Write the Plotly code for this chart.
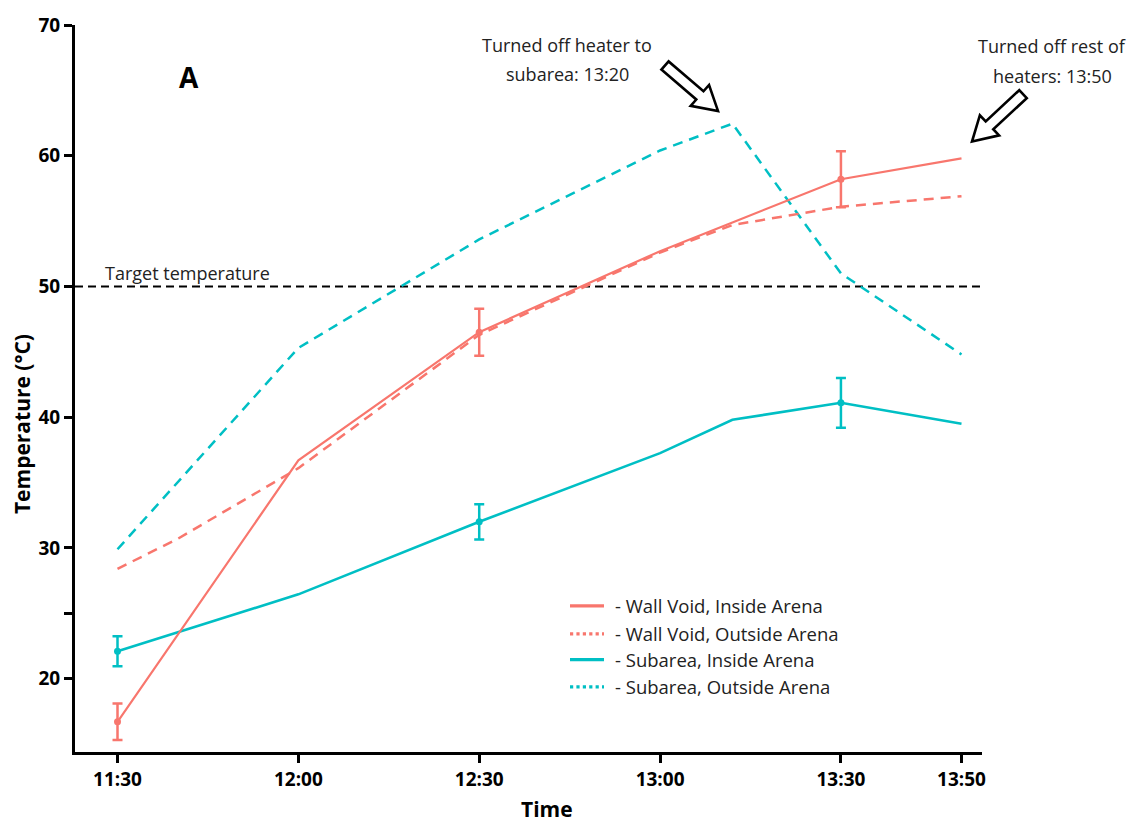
import plotly.graph_objects as go

# ---------------- data (minutes after 11:30) ----------------
tick_minutes = [0, 30, 60, 90, 120, 140]
tick_labels = ["11:30", "12:00", "12:30", "13:00", "13:30", "13:50"]

wv_in_t = [0, 30, 60, 90, 102, 120, 140]
wv_in_v = [16.7, 36.7, 46.5, 52.7, 54.9, 58.2, 59.8]

wv_out_t = [0, 10, 30, 60, 90, 102, 120, 140]
wv_out_v = [28.4, 30.7, 36.1, 46.3, 52.6, 54.7, 56.1, 56.9]

sub_in_t = [0, 30, 60, 90, 102, 120, 140]
sub_in_v = [22.1, 26.45, 32.0, 37.25, 39.8, 41.1, 39.5]

sub_out_t = [0, 30, 60, 90, 102, 120, 140]
sub_out_v = [29.9, 45.3, 53.6, 60.4, 62.45, 51.0, 44.8]

err_t = [0, 60, 120]
wv_in_err = [1.4, 1.8, 2.15]
sub_in_err = [1.15, 1.35, 1.9]

target_temp = 50
legend_names = ["- Wall Void, Inside Arena", "- Wall Void, Outside Arena",
                "- Subarea, Inside Arena", "- Subarea, Outside Arena"]

RED = "#F8766D"
CYAN = "#00BFC4"
FONT = "Open Sans"

# ---------------- layout geometry ----------------
L, T, R, B = 75, 16, 158, 73
WIDTH, HEIGHT = 1140, 825
PW = WIDTH - L - R
PH = HEIGHT - T - B


def pp(px, py):
    return (px - L) / PW, 1 - (py - T) / PH


fig = go.Figure()

# lines
fig.add_trace(go.Scatter(x=sub_out_t, y=sub_out_v, mode="lines",
                         line=dict(color=CYAN, width=2.5, dash="10px,7px"),
                         showlegend=False, hoverinfo="skip"))
fig.add_trace(go.Scatter(x=wv_out_t, y=wv_out_v, mode="lines",
                         line=dict(color=RED, width=2.5, dash="10px,7px"),
                         showlegend=False, hoverinfo="skip"))
fig.add_trace(go.Scatter(x=sub_in_t, y=sub_in_v, mode="lines",
                         line=dict(color=CYAN, width=2.6),
                         showlegend=False, hoverinfo="skip"))
fig.add_trace(go.Scatter(x=wv_in_t, y=wv_in_v, mode="lines",
                         line=dict(color=RED, width=2.2),
                         showlegend=False, hoverinfo="skip"))

# points with error bars
wv_lookup = dict(zip(wv_in_t, wv_in_v))
sub_lookup = dict(zip(sub_in_t, sub_in_v))
fig.add_trace(go.Scatter(x=err_t, y=[wv_lookup[t] for t in err_t], mode="markers",
                         marker=dict(color=RED, size=7),
                         error_y=dict(type="data", array=wv_in_err, color=RED,
                                      thickness=2.5, width=5),
                         showlegend=False, hoverinfo="skip"))
fig.add_trace(go.Scatter(x=err_t, y=[sub_lookup[t] for t in err_t], mode="markers",
                         marker=dict(color=CYAN, size=7),
                         error_y=dict(type="data", array=sub_in_err, color=CYAN,
                                      thickness=2.5, width=5),
                         showlegend=False, hoverinfo="skip"))

shapes = []
# target line
shapes.append(dict(type="line", xref="paper", yref="y", x0=0, x1=1,
                   y0=target_temp, y1=target_temp,
                   line=dict(color="black", width=2, dash="8px,5px"), layer="below"))


def arrow(tail, tip, w=5.5, hw=14, hl=24):
    import math
    dx, dy = tip[0] - tail[0], tip[1] - tail[1]
    n = math.hypot(dx, dy)
    ux, uy = dx / n, dy / n
    nx, ny = -uy, ux
    bx, by = tip[0] - ux * hl, tip[1] - uy * hl
    pts = [
        (tail[0] + nx * w, tail[1] + ny * w),
        (bx + nx * w, by + ny * w),
        (bx + nx * hw, by + ny * hw),
        tip,
        (bx - nx * hw, by - ny * hw),
        (bx - nx * w, by - ny * w),
        (tail[0] - nx * w, tail[1] - ny * w),
    ]
    path = "M " + " L ".join("%.5f,%.5f" % pp(*p) for p in pts) + " Z"
    return dict(type="path", xref="paper", yref="paper", path=path,
                line=dict(color="black", width=2.6), fillcolor="white", layer="above")


shapes.append(arrow((665, 57), (718, 103)))
shapes.append(arrow((1023, 86), (972, 134)))

# legend samples
legend_rows = [604, 632.5, 658.5, 686]
legend_colors = [RED, RED, CYAN, CYAN]
legend_dash = ["solid", "dot", "solid", "dot"]
annotations = []
for name, yy, col, dsh in zip(legend_names, legend_rows, legend_colors, legend_dash):
    x0, y0 = pp(570, yy)
    x1, _ = pp(604, yy)
    shapes.append(dict(type="line", xref="paper", yref="paper", x0=x0, x1=x1, y0=y0, y1=y0,
                       line=dict(color=col, width=3.2, dash=dsh)))
    tx, ty = pp(613, yy)
    annotations.append(dict(text=name, xref="paper", yref="paper", x=tx, y=ty,
                            xanchor="left", yanchor="middle", showarrow=False,
                            font=dict(family=FONT, size=18.5, color="#222")))


def text_at(txt, px, py, size, bold=False, anchor="center", angle=0, color="#222"):
    x, y = pp(px, py)
    annotations.append(dict(text=txt, xref="paper", yref="paper", x=x, y=y,
                            xanchor=anchor, yanchor="middle", showarrow=False,
                            textangle=angle,
                            font=dict(family=FONT, size=size, color=color,
                                      weight="bold" if bold else "normal")))


text_at("Turned off heater to", 567, 36, 18)
text_at("subarea: 13:20", 567, 66, 18)
text_at("Turned off rest of", 1052, 37, 18)
text_at("heaters: 13:50", 1052, 68, 18)
text_at("Target temperature", 103, 267, 18, anchor="left")
text_at("A", 189, 69, 28, bold=True, color="black")
text_at("Time", 547, 810, 21, bold=True, color="black")
text_at("Temperature (°C)", 22, 420, 21, bold=True, angle=-90, color="black")

fig.update_layout(
    width=WIDTH, height=HEIGHT,
    margin=dict(l=L, r=R, t=T, b=B, pad=0),
    paper_bgcolor="white", plot_bgcolor="white",
    shapes=shapes, annotations=annotations,
    showlegend=False,
    font=dict(family=FONT, color="black"),
)
fig.update_xaxes(range=[-7.05, 143.4], tickmode="array", tickvals=tick_minutes,
                 ticktext=tick_labels, showgrid=False, zeroline=False,
                 showline=True, linecolor="black", linewidth=3,
                 ticks="outside", ticklen=8, tickwidth=2.5, tickcolor="black",
                 tickfont=dict(family=FONT, size=19, color="black", weight="bold"))
fig.update_yaxes(range=[14.39, 70], tickmode="array",
                 tickvals=[20, 25, 30, 40, 50, 60, 70],
                 ticktext=["20", "", "30", "40", "50", "60", "70"],
                 showgrid=False, zeroline=False,
                 showline=True, linecolor="black", linewidth=3,
                 ticks="outside", ticklen=8, tickwidth=2.5, tickcolor="black",
                 tickfont=dict(family=FONT, size=19, color="black", weight="bold"))

fig.write_html("out.html", config={"displayModeBar": False})
